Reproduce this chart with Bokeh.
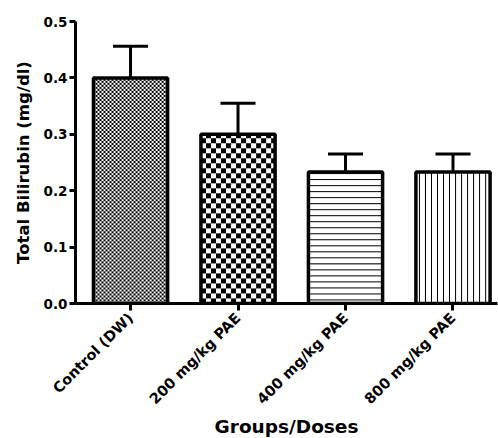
import numpy as np
from math import pi
from bokeh.plotting import figure
from bokeh.models import (FixedTicker, Whisker, ColumnDataSource, TeeHead,
                          Range1d, NumeralTickFormatter)
from bokeh.embed import file_html
from bokeh.resources import INLINE

# ---- data ----
groups = ["Control (DW)", "200 mg/kg PAE", "400 mg/kg PAE", "800 mg/kg PAE"]
means = [0.40, 0.30, 0.233, 0.233]
sems = [0.056, 0.055, 0.032, 0.032]
patterns = ["fine_checker", "checker", "hlines", "vlines"]
y_ticks = [0.0, 0.1, 0.2, 0.3, 0.4, 0.5]

# ---- layout ----
FRAME_W, FRAME_H = 422, 282
X_START, X_END = -0.512, 3.414
Y_START, Y_END = 0.0, 0.5
BAR_W = 0.69
FONT = "DejaVu Sans"

px_x = FRAME_W / (X_END - X_START)
px_y = FRAME_H / (Y_END - Y_START)

p = figure(frame_width=FRAME_W, frame_height=FRAME_H,
           x_range=Range1d(X_START, X_END), y_range=Range1d(Y_START, Y_END),
           output_backend="svg", toolbar_location=None,
           min_border_left=75, min_border_right=1, min_border_top=21,
           min_border_bottom=135)
p.outline_line_color = None
p.xgrid.visible = False
p.ygrid.visible = False


def make_texture(kind, ny, nx):
    yy, xx = np.mgrid[0:ny, 0:nx]
    if kind == "fine_checker":
        mask = ((xx // 2 + yy // 2) % 2) == 0
    elif kind == "checker":
        mask = ((xx // 5 + yy // 5) % 2) == 0
    elif kind == "hlines":
        mask = (yy % 6) == 3
    else:
        mask = (xx % 6) == 3
    img = np.empty((ny, nx), dtype=np.uint32)
    view = img.view(dtype=np.uint8).reshape((ny, nx, 4))
    c = np.where(mask, 0, 255).astype(np.uint8)
    view[..., 0] = c
    view[..., 1] = c
    view[..., 2] = c
    view[..., 3] = 255
    return img


xs = list(range(len(groups)))
images = []
for i, (m, kind) in enumerate(zip(means, patterns)):
    nx = int(round(BAR_W * px_x))
    ny = max(1, int(round(m * px_y)))
    images.append(make_texture(kind, ny, nx))

p.image_rgba(image=images, x=[x - BAR_W / 2 for x in xs], y=[0] * len(xs),
             dw=[BAR_W] * len(xs), dh=means)

p.vbar(x=xs, top=means, width=BAR_W, fill_color=None,
       line_color="black", line_width=3.5)

src = ColumnDataSource(dict(x=xs, lower=means,
                            upper=[m + s for m, s in zip(means, sems)]))
wh = Whisker(base="x", lower="lower", upper="upper", source=src,
             dimension="height", line_width=3, line_color="black",
             upper_head=TeeHead(size=35, line_width=3, line_color="black"),
             lower_head=None)
p.add_layout(wh)

# ---- axes ----
for ax in (p.xaxis[0], p.yaxis[0]):
    ax.axis_line_width = 3
    ax.axis_line_color = "black"
    ax.major_tick_line_width = 3
    ax.major_tick_line_color = "black"
    ax.minor_tick_line_color = None
    ax.major_tick_in = 0
    ax.major_label_text_font = FONT
    ax.major_label_text_font_style = "bold"
    ax.major_label_text_color = "black"
    ax.axis_label_text_font = FONT
    ax.axis_label_text_font_style = "bold"
    ax.axis_label_text_color = "black"

p.yaxis.ticker = FixedTicker(ticks=y_ticks)
p.yaxis.formatter = NumeralTickFormatter(format="0.0")
p.yaxis.major_tick_out = 6
p.yaxis.major_label_text_font_size = "13.5px"
p.yaxis.major_label_standoff = 2
p.yaxis.axis_label = "Total Bilirubin (mg/dl)"
p.yaxis.axis_label_text_font_size = "16.5px"
p.yaxis.axis_label_standoff = 8

p.xaxis.ticker = FixedTicker(ticks=xs)
p.xaxis.major_label_overrides = {i: g for i, g in enumerate(groups)}
p.xaxis.major_label_orientation = pi / 4
p.xaxis.major_tick_out = 7
p.xaxis.major_label_text_font_size = "14.5px"
p.xaxis.major_label_standoff = 5
p.xaxis.axis_label = "Groups/Doses"
p.xaxis.axis_label_text_font_size = "18.5px"
p.xaxis.axis_label_standoff = 0

open("out.html", "w").write(file_html(p, INLINE))
